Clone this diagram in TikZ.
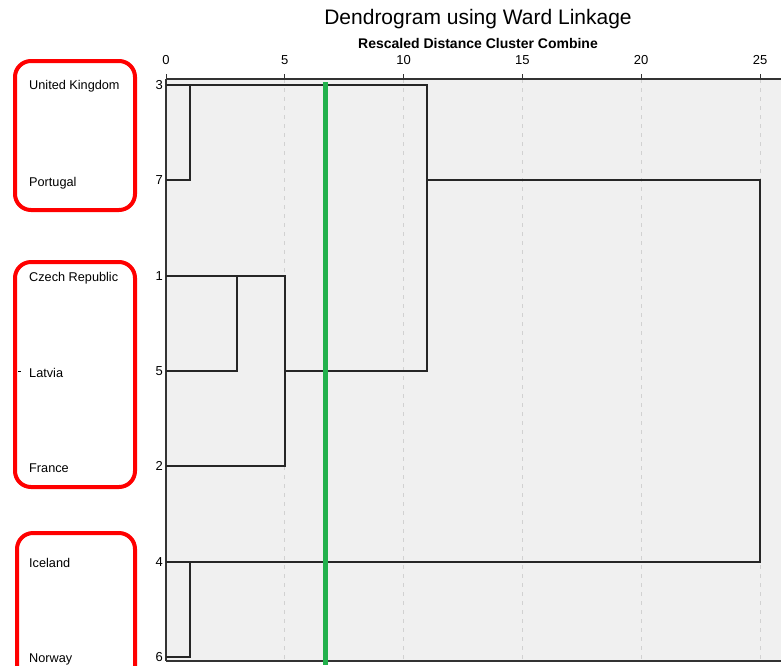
\documentclass[tikz,border=0pt]{standalone}
\usepackage{fontspec}
\setmainfont{Liberation Sans}
\begin{document}
\begin{tikzpicture}[x=1pt,y=-1pt,
  lbl/.style={font=\fontsize{12.7}{12.7}\selectfont,anchor=west,inner sep=0pt},
  leafnum/.style={font=\fontsize{13}{13}\selectfont,anchor=east,inner sep=0pt},
  axnum/.style={font=\fontsize{13}{13}\selectfont,anchor=base,inner sep=0pt},
  dend/.style={draw=black!85,line width=1.2pt},
  grid/.style={draw=black!18,line width=1pt,dash pattern=on 4pt off 5pt},
  redbox/.style={draw=red,line width=4pt,rounded corners=16pt}]
\useasboundingbox (0,0) rectangle (781,665);
\definecolor{cutgreen}{HTML}{22B14C}
% plot background
\fill[black!6] (166,79) rectangle (781,661);
% gridlines
\foreach \v in {5,10,15,20,25}{
  \draw[grid] ({166+23.76*\v},79) -- ({166+23.76*\v},661);
}
% title
\node[font=\fontsize{21}{21}\selectfont,inner sep=0pt] (title) at (478,19) {Dendrogram using Ward Linkage};
\node[font=\fontsize{14}{14}\selectfont\bfseries,inner sep=0pt] (subtitle) at (478,43) {Rescaled Distance Cluster Combine};
% axis
\foreach \v in {0,5,10,15,20,25}{
  \node[axnum] (ax\v) at ({166+23.76*\v},64) {\v};
  \draw[black!80,line width=1pt] ({166+23.76*\v},74) -- ({166+23.76*\v},79);
}
\draw[black!80,line width=1.2pt] (166,79) -- (781,79);
\draw[black!80,line width=1.2pt] (166,79) -- (166,661);
\draw[black!80,line width=1.2pt] (166,661) -- (781,661);
% leaves
\foreach \n/\y in {3/85,7/180,1/276,5/371,2/466,4/562,6/657}{
  \coordinate (L\n) at (166,\y);
  \node[leafnum] (N\n) at (163,\y) {\n};
}
% merge coordinates
\coordinate (m37a) at (190,85);  \coordinate (m37b) at (190,180);
\coordinate (m15a) at (237,276); \coordinate (m15b) at (237,371);
\coordinate (m152a) at (285,276); \coordinate (m152b) at (285,466);
\coordinate (mAa) at (427,85);   \coordinate (mAb) at (427,371);
\coordinate (m46a) at (190,562); \coordinate (m46b) at (190,657);
\coordinate (mRa) at (760,180);  \coordinate (mRb) at (760,562);
\draw[dend] (L3) -- (m37a) -- (m37b) -- (L7);
\draw[dend] (L1) -- (m15a) -- (m15b) -- (L5);
\draw[dend] (m15a) -- (m152a) -- (m152b) -- (L2);
\draw[dend] (m37a) -- (mAa) -- (mAb) -- (285,371);
\draw[dend] (L4) -- (m46a) -- (m46b) -- (L6);
\draw[dend] (427,180) -- (mRa) -- (mRb) -- (m46a);
% cut line
\draw[draw=cutgreen,line width=5pt] (325,82) -- (325,665);
% country labels
\node[lbl] (uk) at (29,86) {United Kingdom};
\node[lbl] (pt) at (29,183) {Portugal};
\node[lbl] (cz) at (29,278) {Czech Republic};
\node[lbl] (lv) at (29,373) {Latvia};
\node[lbl] (fr) at (29,468) {France};
\node[lbl] (is) at (29,563) {Iceland};
\node[lbl] (no) at (29,659) {Norway};
\draw[black,line width=0.8pt] (18,371) -- (21,371);
% red boxes
\draw[redbox] (15,61) rectangle (135,210);
\draw[redbox] (15,262) rectangle (135,487);
\draw[redbox] (17,533) rectangle (135,690);
\end{tikzpicture}
\end{document}
